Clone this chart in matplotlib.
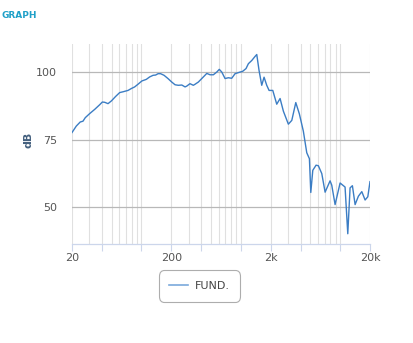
import matplotlib
matplotlib.use("Agg")
import matplotlib.pyplot as plt
from matplotlib.ticker import FixedLocator, NullLocator

# ---- data ----
freq_hz = [20, 22.1, 24.2, 25.8, 27.2, 30.1, 33.9, 38.0, 40.4, 42.7, 46.1, 49.8,
           55.1, 60.4, 65.3, 73.3, 79.1, 85.5, 92.4, 101, 112, 121, 131, 139,
           147, 156, 169, 185, 202, 218, 235, 255, 275, 286, 308, 333, 347, 374,
           405, 455, 491, 530, 573, 608, 644, 695, 750, 811, 876, 984, 1047,
           1130, 1193, 1291, 1393, 1449, 1528, 1626, 1716, 1826, 1928, 2100,
           2302, 2488, 2686, 3014, 3264, 3580, 3890, 4266, 4618, 4910, 5070,
           5310, 5728, 6040, 6540, 7064, 7926, 8240, 8904, 10000, 11220, 11950,
           12600, 13300, 14160, 15280, 16540, 17850, 19010, 20000]
fund_db = [77.7, 80.1, 81.6, 81.9, 83.2, 84.7, 86.3, 88.0, 89.0, 88.9, 88.4, 89.4,
           91.1, 92.5, 92.8, 93.3, 94.0, 94.6, 95.6, 96.8, 97.4, 98.3, 98.9, 99.0,
           99.5, 99.5, 98.9, 97.7, 96.4, 95.4, 95.2, 95.3, 94.6, 94.9, 95.8, 95.2,
           95.6, 96.4, 97.7, 99.6, 99.1, 99.1, 100.1, 101.1, 100.1, 97.7, 98.0,
           97.8, 99.5, 100.1, 100.4, 101.4, 103.2, 104.4, 105.9, 106.6, 100.7,
           95.2, 98.2, 95.2, 93.3, 93.3, 88.2, 90.3, 85.6, 80.8, 82.2, 88.8, 84.6,
           78.2, 70.2, 68.0, 55.5, 63.7, 65.6, 65.4, 62.5, 55.6, 59.8, 58.2, 51.0,
           59.0, 57.5, 40.2, 57.2, 58.0, 51.0, 54.1, 55.8, 52.7, 53.9, 59.5]
series_name = "FUND."
y_ticks = [50, 75, 100]
x_label_ticks = [20, 200, 2000, 20000]
x_label_text = ["20", "200", "2k", "20k"]
x_tick_marks = [20, 40, 100, 200, 400, 1000, 2000, 4000, 10000, 20000]
title_text = "GRAPH"
y_title = "dB"

# ---- figure ----
W, H = 413, 343
fig = plt.figure(figsize=(W / 100, H / 100), dpi=100)
fig.patch.set_facecolor("white")
L, R, T, B = 72, 370, 44, 244
ax = fig.add_axes([L / W, 1 - B / H, (R - L) / W, (B - T) / H])

ax.set_xscale("log")
ax.set_xlim(20, 20000)
ax.set_ylim(36.4, 110.5)

grid_x = [m * 10 ** d for d in range(1, 5) for m in range(1, 10) if 20 <= m * 10 ** d <= 20000]
for gx in grid_x:
    ax.axvline(gx, color="#e0e0e0", lw=0.8, zorder=0)
for gy in y_ticks:
    ax.axhline(gy, color="#b8b8b8", lw=0.9, zorder=1)

ax.plot(freq_hz, fund_db, color="#3b7dc4", lw=1.0, zorder=3, label=series_name,
        solid_joinstyle="round")

for s in ["top", "right", "left"]:
    ax.spines[s].set_visible(False)
ax.spines["bottom"].set_color("#ccd6eb")
ax.spines["bottom"].set_linewidth(0.9)

ax.xaxis.set_major_locator(FixedLocator(x_tick_marks))
ax.xaxis.set_minor_locator(NullLocator())
ax.set_xticks(x_tick_marks)
ax.set_xticklabels([x_label_text[x_label_ticks.index(t)] if t in x_label_ticks else "" for t in x_tick_marks])
ax.tick_params(axis="x", length=5, width=0.8, color="#ccd6eb", labelsize=8,
               labelcolor="#555555", pad=1.5)
ax.set_yticks(y_ticks)
ax.set_yticklabels([str(v) for v in y_ticks])
ax.tick_params(axis="y", length=0, labelsize=8, labelcolor="#555555", pad=11)

fig.text(28 / W, 1 - 140 / H, y_title, rotation=90, ha="center", va="center",
         fontsize=8, fontweight="bold", color="#44607e")
fig.text(2 / W, 1 - 16 / H, title_text, ha="left", va="center",
         fontsize=6.5, fontweight="bold", color="#1fa0c8")

leg = fig.legend(handles=[plt.Line2D([], [], color="#7aa9dc", lw=1.2)],
                 labels=[series_name], loc="center",
                 bbox_to_anchor=(199.5 / W, 1 - 286 / H), frameon=True,
                 fancybox=True, fontsize=8, handlelength=1.7, handletextpad=0.6,
                 borderpad=0.95, labelcolor="#444444")
leg.get_frame().set_edgecolor("#999999")
leg.get_frame().set_linewidth(0.8)
leg.get_frame().set_boxstyle("round,pad=0.0,rounding_size=0.5")

fig.savefig("out.png", dpi=100, facecolor="white")
